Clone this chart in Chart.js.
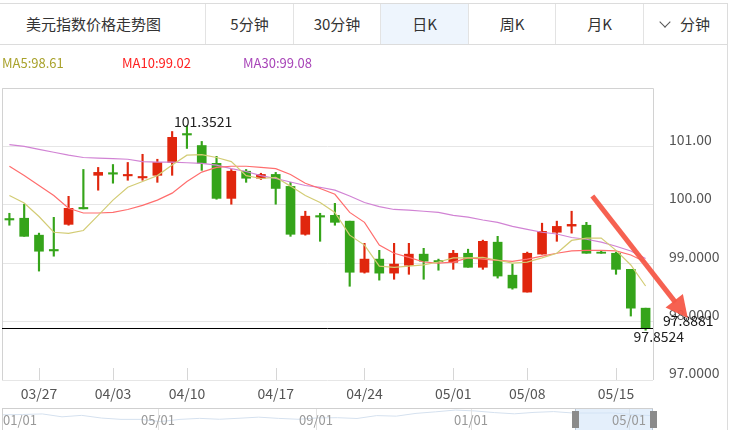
<!DOCTYPE html>
<html>
<head>
<meta charset="utf-8">
<script src="https://cdn.jsdelivr.net/npm/chart.js@4.4.1/dist/chart.umd.min.js"></script>
<style>
  body { margin:0; width:730px; height:430px; overflow:hidden; background:#fff; position:relative;
         font-family:"Noto Sans CJK SC","Noto Sans",sans-serif; color:#333; }
  #main { position:absolute; left:0; top:0; }
  .tabs { position:absolute; left:0; top:3px; width:727px; height:42px; box-sizing:border-box;
          border-top:1px solid #dcdcdc; border-bottom:1px solid #dcdcdc; display:flex; background:#fff; }
  .tabs div { box-sizing:border-box; height:40px; line-height:40px; font-size:15px; text-align:center;
              border-right:1px solid #e3e3e3; color:#333; }
  .tabs div:last-child { border-right:none; }
  .tabs .title { text-align:left; padding-left:26px; }
  .tabs .on { background:#eef5fd; }
  .chev { display:inline-block; width:7px; height:7px; border-right:1px solid #555; border-bottom:1px solid #555;
          transform:rotate(45deg); margin-right:11px; position:relative; top:-4px; }
  .rborder { position:absolute; left:727px; top:3px; width:1px; height:427px; background:#dcdcdc; }
  .legend { position:absolute; top:55px; height:16px; line-height:16px; font-size:13px; }
  .nav { position:absolute; left:2px; top:408px; width:651px; height:24px; box-sizing:border-box;
         border:1px solid #cfcfcf; border-bottom:none; }
  #navc { position:absolute; left:0; top:0; }
  .nsep { position:absolute; top:0; width:1px; height:24px; background:#e2e2e2; }
  .nlab { position:absolute; top:3px; font-size:13px; color:#999; line-height:16px; transform:translateX(-50%); }
  .sel { position:absolute; left:572px; top:0; width:78px; height:24px; background:rgba(210,228,248,0.6);
         border-left:1px solid #b9c8d8; border-right:1px solid #b9c8d8; box-sizing:border-box; }
  .hdl { position:absolute; top:2px; width:7px; height:17px; background:#8b8b8b; }
</style>
</head>
<body>
<canvas id="main" width="730" height="430"></canvas>
<div class="tabs">
  <div class="title" style="width:206px">美元指数价格走势图</div>
  <div style="width:88px">5分钟</div>
  <div style="width:87px">30分钟</div>
  <div class="on" style="width:88px">日K</div>
  <div style="width:87px">周K</div>
  <div style="width:88px">月K</div>
  <div style="width:83px"><span class="chev"></span>分钟</div>
</div>
<div class="rborder"></div>
<div id="lg5" class="legend" style="left:2px;color:#a9a22c"></div>
<div id="lg10" class="legend" style="left:122px;color:#ff2020"></div>
<div id="lg30" class="legend" style="left:243px;color:#a845b8"></div>
<div class="nav">
  <canvas id="navc" width="649" height="22"></canvas>
  <div class="nsep" style="left:155px"></div>
  <div class="nsep" style="left:313px"></div>
  <div class="nsep" style="left:468px"></div>
  <div class="nsep" style="left:626px"></div>
  <div class="nlab" style="left:17px">01/01</div>
  <div class="nlab" style="left:155px">05/01</div>
  <div class="nlab" style="left:313px">09/01</div>
  <div class="nlab" style="left:468px">01/01</div>
  <div class="sel"></div>
  <div class="nlab" style="left:626px">05/01</div>
  <div class="hdl" style="left:569px"></div>
  <div class="hdl" style="left:647px"></div>
</div>
<script>
const FONT = '"Noto Sans CJK SC","Noto Sans",sans-serif';

const categories = ['03/23','03/24','03/27','03/28','03/29','03/30','03/31','04/03','04/04','04/05','04/06','04/07',
  '04/10','04/11','04/12','04/13','04/14','04/16','04/17','04/18','04/19','04/20','04/21','04/23','04/24','04/25',
  '04/26','04/27','04/28','04/30','05/01','05/02','05/03','05/04','05/05','05/08','05/09','05/10','05/11','05/12',
  '05/14','05/15','05/16','05/17'];
const opens  = [99.765,99.770,99.480,99.235,99.665,99.955,100.505,100.550,100.495,100.460,100.505,100.725,101.220,
  101.015,100.710,100.110,100.575,100.455,100.520,100.315,99.495,99.815,99.820,99.720,98.845,99.070,98.830,98.965,
  99.155,99.045,99.015,99.170,98.930,99.360,98.795,98.505,99.155,99.530,99.635,99.650,99.190,99.170,98.895,98.230];
const highs  = [99.855,100.010,99.515,99.785,100.145,100.605,100.640,100.690,100.725,100.865,100.780,101.255,101.3521,
  101.085,100.830,100.605,100.605,100.540,100.555,100.385,99.890,99.855,100.025,99.720,99.340,99.220,99.340,99.340,
  99.255,99.070,99.220,99.240,99.395,99.460,98.985,99.190,99.685,99.720,99.890,99.700,99.205,99.190,98.895,98.230];
const lows   = [99.650,99.460,98.865,99.120,99.650,99.930,100.250,100.370,100.420,100.420,100.385,100.505,100.965,
  100.590,100.095,100.010,100.385,100.435,100.010,99.460,99.480,99.375,99.650,98.605,98.830,98.710,98.725,98.810,
  98.725,98.880,98.895,98.930,98.895,98.745,98.555,98.505,99.155,99.375,99.515,99.170,99.170,98.810,98.095,97.8524];
const closes = [99.740,99.460,99.205,99.210,99.940,99.930,100.555,100.525,100.520,100.485,100.725,101.155,101.195,
  100.710,100.110,100.575,100.455,100.520,100.280,99.495,99.805,99.790,99.700,98.845,99.070,98.830,98.985,99.155,
  99.035,99.025,99.170,98.930,99.375,98.780,98.575,99.170,99.545,99.630,99.665,99.170,99.170,98.895,98.230,97.8881];

const ma5  = [100.16,100.03,99.80,99.53,99.51,99.56,99.82,100.08,100.30,100.40,100.50,100.68,100.85,100.86,100.81,
  100.74,100.50,100.45,100.47,100.32,100.16,100.04,99.87,99.48,99.31,98.95,98.93,98.95,98.97,99.02,99.09,99.09,
  99.10,99.05,99.00,99.02,99.09,99.17,99.39,99.43,99.43,99.22,98.97,98.61];
const ma10 = [100.66,100.50,100.33,100.16,99.94,99.86,99.86,99.87,99.92,99.99,100.08,100.20,100.40,100.56,100.64,
  100.66,100.66,100.64,100.62,100.52,100.37,100.28,100.18,99.87,99.70,99.31,99.17,99.10,99.02,99.00,99.02,99.09,
  99.07,99.05,99.03,99.07,99.12,99.17,99.21,99.22,99.22,99.21,99.14,99.02];
const ma30 = [101.03,101.00,100.95,100.90,100.85,100.81,100.80,100.79,100.78,100.74,100.73,100.73,100.72,100.71,
  100.68,100.62,100.57,100.50,100.45,100.39,100.33,100.30,100.25,100.15,100.04,99.97,99.92,99.91,99.89,99.87,99.82,
  99.79,99.74,99.70,99.63,99.58,99.53,99.50,99.44,99.41,99.36,99.29,99.21,99.08];

const xTickLabels = ['03/27','04/03','04/10','04/17','04/24','05/01','05/08','05/15'];
const yTickValues = [97, 98, 99, 100, 101];
const yTickLabels = ['97.0000','98.0000','99.0000','100.00','101.00'];
const lastPrice = 97.8881;

// navigator: half-monthly closes 2016-01 .. 2017-05
const navDates  = ['16/01a','16/01b','16/02a','16/02b','16/03a','16/03b','16/04a','16/04b','16/05a','16/05b',
  '16/06a','16/06b','16/07a','16/07b','16/08a','16/08b','16/09a','16/09b','16/10a','16/10b','16/11a','16/11b',
  '16/12a','16/12b','17/01a','17/01b','17/02a','17/02b','17/03a','17/03b','17/04a','17/04b','17/05a','17/05b'];
const navValues = [98.7,99.0,99.5,96.9,98.2,95.8,94.6,94.6,92.6,94.6,95.5,94.7,95.6,96.6,95.5,94.7,95.9,96.1,
  95.4,98.0,97.5,100.0,101.4,103.0,102.2,100.7,99.6,100.9,101.6,100.3,100.3,100.4,99.0,97.9];

const RED = '#e0260d', GREEN = '#35a41a';
const candleColors = closes.map((c, i) => c > opens[i] ? RED : GREEN);

document.getElementById('lg5').textContent  = 'MA5:'  + ma5[ma5.length - 1].toFixed(2);
document.getElementById('lg10').textContent = 'MA10:' + ma10[ma10.length - 1].toFixed(2);
document.getElementById('lg30').textContent = 'MA30:' + ma30[ma30.length - 1].toFixed(2);

const decor = {
  id: 'decor',
  afterDraw(chart) {
    const { ctx, chartArea: a, scales: { x, y } } = chart;
    ctx.save();
    // frame
    ctx.strokeStyle = '#d2d2d2'; ctx.lineWidth = 1;
    ctx.beginPath();
    ctx.moveTo(a.left + 0.5, a.bottom); ctx.lineTo(a.left + 0.5, a.top + 0.5);
    ctx.lineTo(a.right + 0.5, a.top + 0.5); ctx.lineTo(a.right + 0.5, a.bottom);
    ctx.stroke();
    // tick marks inside the plot
    ctx.strokeStyle = '#d6d6d6';
    xTickLabels.forEach(l => {
      const px = Math.round(x.getPixelForValue(categories.indexOf(l))) + 0.5;
      ctx.beginPath(); ctx.moveTo(px, a.bottom - 12); ctx.lineTo(px, a.bottom); ctx.stroke();
    });
    // last price line
    const py = Math.round(y.getPixelForValue(lastPrice)) + 0.5;
    ctx.strokeStyle = '#000';
    ctx.beginPath(); ctx.moveTo(a.left, py); ctx.lineTo(a.right, py); ctx.stroke();
    ctx.font = '14px ' + FONT; ctx.fillStyle = '#111'; ctx.textBaseline = 'alphabetic'; ctx.textAlign = 'left';
    ctx.fillText(lastPrice.toFixed(4), a.right + 10, py - 3);
    // max / min labels
    const hi = Math.max(...highs), hiIdx = highs.indexOf(hi);
    const lo = Math.min(...lows), loIdx = lows.indexOf(lo);
    ctx.fillStyle = '#222';
    ctx.fillText(hi.toFixed(4), x.getPixelForValue(hiIdx) - 13, y.getPixelForValue(hi) + 1);
    ctx.fillText(lo.toFixed(4), x.getPixelForValue(loIdx) - 12, y.getPixelForValue(lo) + 12);
    // trend arrow
    const x0 = x.getPixelForValue(39.4), y0 = y.getPixelForValue(100.15);
    const x1 = x.getPixelForValue(45.85), y1 = y.getPixelForValue(98.06);
    const len = Math.hypot(x1 - x0, y1 - y0), ux = (x1 - x0) / len, uy = (y1 - y0) / len;
    const bx = x1 - ux * 22, by = y1 - uy * 22;
    ctx.strokeStyle = 'rgba(246,88,72,0.95)'; ctx.fillStyle = 'rgba(246,88,72,0.95)';
    ctx.lineWidth = 5; ctx.lineCap = 'butt';
    ctx.beginPath(); ctx.moveTo(x0, y0); ctx.lineTo(bx + ux * 2, by + uy * 2); ctx.stroke();
    ctx.beginPath();
    ctx.moveTo(x1, y1);
    ctx.lineTo(bx - uy * 11, by + ux * 11);
    ctx.lineTo(bx + uy * 11, by - ux * 11);
    ctx.closePath(); ctx.fill();
    ctx.restore();
  }
};

new Chart(document.getElementById('main'), {
  type: 'bar',
  data: {
    labels: categories,
    datasets: [
      { type: 'line', label: 'MA5', data: ma5, borderColor: '#d3cc75', borderWidth: 1.2, pointRadius: 0, tension: 0, order: 0 },
      { type: 'line', label: 'MA10', data: ma10, borderColor: '#ff6e6e', borderWidth: 1.2, pointRadius: 0, tension: 0, order: 0 },
      { type: 'line', label: 'MA30', data: ma30, borderColor: '#d183d4', borderWidth: 1.2, pointRadius: 0, tension: 0, order: 0 },
      { label: 'body', data: categories.map((_, i) => [opens[i], closes[i]]), backgroundColor: candleColors,
        barThickness: 9, grouped: false, order: 1 },
      { label: 'wick', data: categories.map((_, i) => [lows[i], highs[i]]), backgroundColor: candleColors,
        barThickness: 1.5, grouped: false, order: 2 }
    ]
  },
  options: {
    responsive: false,
    animation: false,
    layout: { padding: { top: 88, left: 2, right: 0, bottom: 0 } },
    plugins: { legend: { display: false }, tooltip: { enabled: false } },
    scales: {
      x: {
        type: 'category', offset: true,
        grid: { display: false, drawTicks: false }, border: { display: false },
        ticks: {
          autoSkip: false, maxRotation: 0, padding: 5, color: '#555', font: { size: 14, family: FONT },
          callback: (v, i) => xTickLabels.includes(categories[i]) ? categories[i] : ''
        },
        afterFit: s => { s.height = 50; }
      },
      y: {
        position: 'right', min: 97, max: 102,
        grid: { color: '#e6e6e6', drawTicks: false }, border: { display: false },
        ticks: {
          stepSize: 1, padding: 16, labelOffset: -7, crossAlign: 'near', color: '#555',
          font: { size: 14, family: FONT },
          callback: v => { const k = yTickValues.indexOf(v); return k < 0 ? '' : yTickLabels[k]; }
        },
        afterFit: s => { s.width = 77; }
      }
    }
  },
  plugins: [decor]
});

new Chart(document.getElementById('navc'), {
  type: 'line',
  data: { labels: navDates, datasets: [{ data: navValues, borderColor: '#d5e1ef', borderWidth: 1, pointRadius: 0, tension: 0 }] },
  options: {
    responsive: false, animation: false,
    plugins: { legend: { display: false }, tooltip: { enabled: false } },
    scales: { x: { display: false, offset: false }, y: { display: false, min: 84.1, max: 103.95 } }
  }
});
</script>
</body>
</html>
